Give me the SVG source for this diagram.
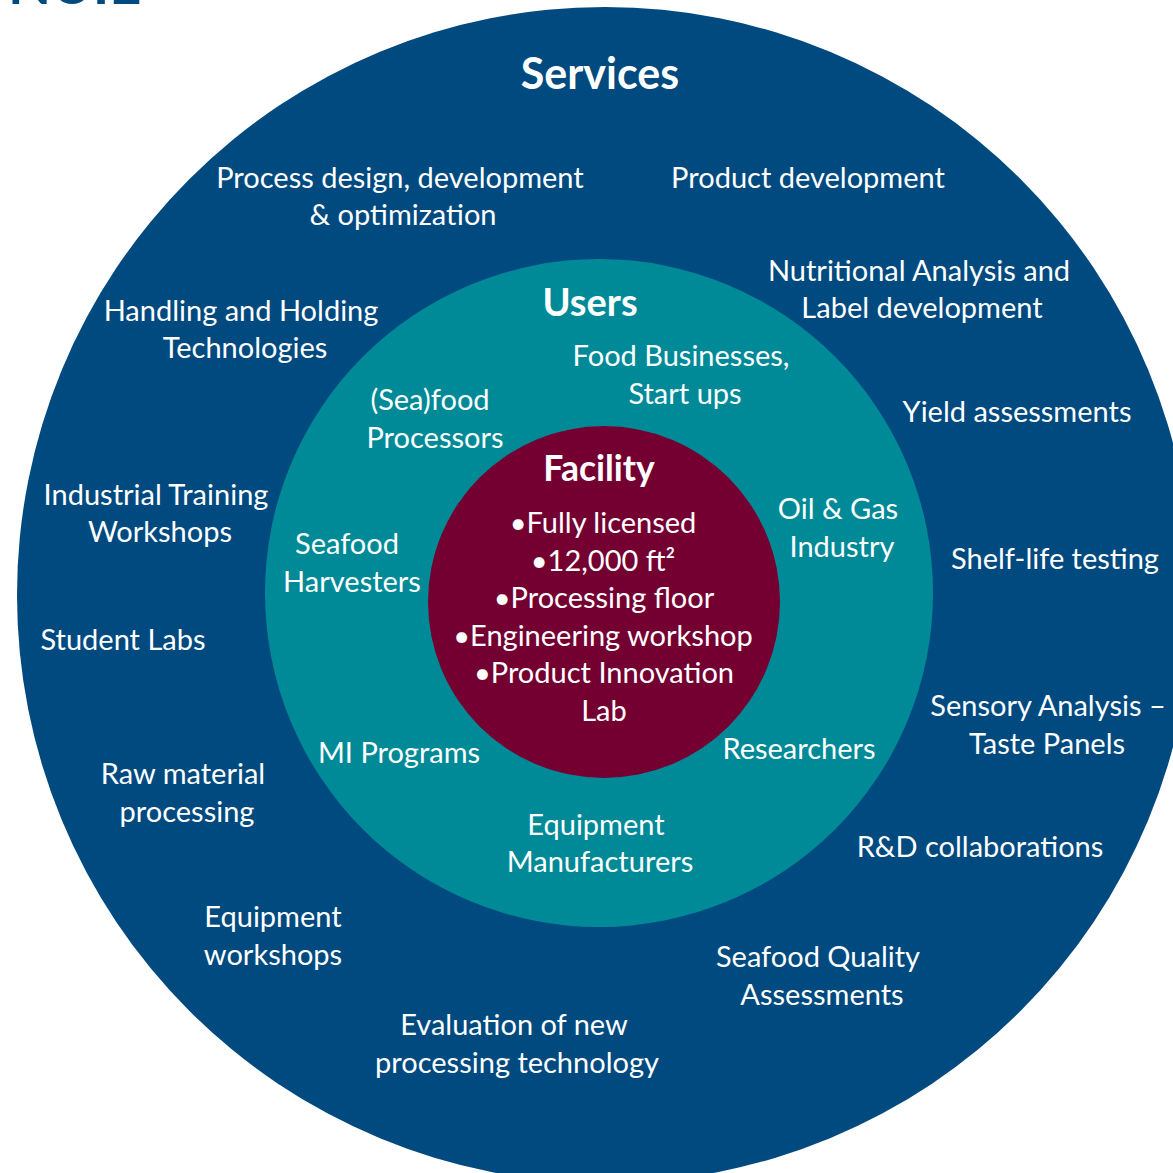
<svg xmlns="http://www.w3.org/2000/svg" width="1173" height="1173" viewBox="0 0 1173 1173">
<style>
.t{font-family:Lato,"Open Sans","Liberation Sans",sans-serif;font-size:29px;fill:#fff;text-anchor:middle}
.h{font-family:Lato,"Open Sans","Liberation Sans",sans-serif;font-weight:bold;fill:#fff;text-anchor:middle}
</style>
<rect width="1173" height="1173" fill="#fff"/>
<text x="8" y="4" font-family="Lato,'Liberation Sans',sans-serif" font-weight="bold" font-size="56" fill="#004A80">NUIE</text>
<g id="services">
<circle cx="605" cy="595" r="588" fill="#004A80"/>
<text class="h" x="600" y="89" font-size="43">Services</text>
<text class="t" x="400" y="188">Process design, development</text>
<text class="t" x="403" y="225">&amp; optimization</text>
<text class="t" x="808" y="188">Product development</text>
<text class="t" x="919" y="281">Nutritional Analysis and</text>
<text class="t" x="922" y="318">Label development</text>
<text class="t" x="241" y="321">Handling and Holding</text>
<text class="t" x="245" y="358">Technologies</text>
<text class="t" x="1017" y="422">Yield assessments</text>
<text class="t" x="156" y="505">Industrial Training</text>
<text class="t" x="160" y="542">Workshops</text>
<text class="t" x="1055" y="569">Shelf-life testing</text>
<text class="t" x="123" y="650">Student Labs</text>
<text class="t" x="1048" y="716">Sensory Analysis –</text>
<text class="t" x="1047" y="754">Taste Panels</text>
<text class="t" x="183" y="784">Raw material</text>
<text class="t" x="187" y="822">processing</text>
<text class="t" x="980" y="857">R&amp;D collaborations</text>
<text class="t" x="273" y="927">Equipment</text>
<text class="t" x="273" y="965">workshops</text>
<text class="t" x="818" y="967">Seafood Quality</text>
<text class="t" x="822" y="1005">Assessments</text>
<text class="t" x="514" y="1035">Evaluation of new</text>
<text class="t" x="517" y="1073">processing technology</text>
</g>
<g id="users">
<circle cx="599" cy="593" r="334" fill="#008A97"/>
<text class="h" x="590" y="316" font-size="38">Users</text>
<text class="t" x="681" y="366">Food Businesses,</text>
<text class="t" x="685" y="404">Start ups</text>
<text class="t" x="430" y="410">(Sea)food</text>
<text class="t" x="435" y="448">Processors</text>
<text class="t" x="838" y="519">Oil &amp; Gas</text>
<text class="t" x="842" y="557">Industry</text>
<text class="t" x="347" y="554">Seafood</text>
<text class="t" x="352" y="592">Harvesters</text>
<text class="t" x="399" y="763">MI Programs</text>
<text class="t" x="799" y="759">Researchers</text>
<text class="t" x="596" y="835">Equipment</text>
<text class="t" x="600" y="872">Manufacturers</text>
</g>
<g id="facility">
<circle cx="604" cy="602" r="176" fill="#740032"/>
<text class="h" x="599" y="481" font-size="35.5">Facility</text>
<text class="t" x="603" y="533">•Fully licensed</text>
<text class="t" x="603" y="571">•12,000 ft²</text>
<text class="t" x="604" y="608">•Processing floor</text>
<text class="t" x="603" y="646">•Engineering workshop</text>
<text class="t" x="604" y="683">•Product Innovation</text>
<text class="t" x="604" y="721">Lab</text>
</g>
<g id="connectors"/>
</svg>
